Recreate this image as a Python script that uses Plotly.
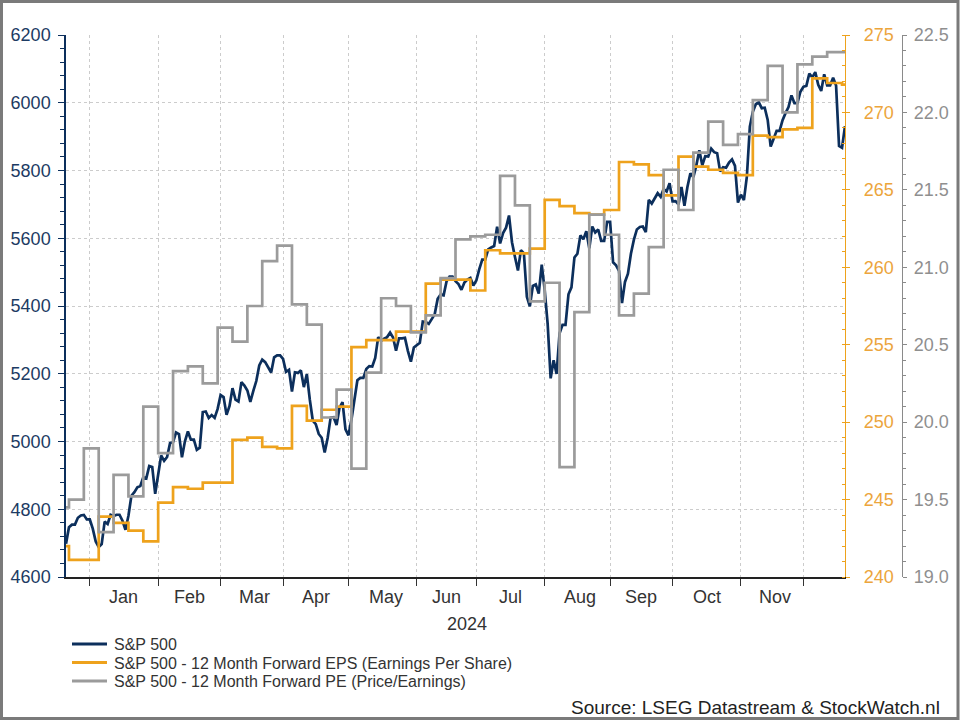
import pandas as pd
import plotly.graph_objects as go

# ---- data -------------------------------------------------------------
dates = pd.bdate_range("2023-12-20", "2024-12-20")  # Datastream weekday calendar

sp500 = [
    4698.35, 4746.75, 4754.63, 4754.63, 4774.75, 4781.58, 4783.35, 4769.83,
    4769.83, 4742.83, 4704.81, 4688.68, 4697.24, 4763.54, 4756.50, 4783.45,
    4780.24, 4783.83, 4783.83, 4765.98, 4739.21, 4780.94, 4839.81, 4850.43,
    4864.60, 4868.55, 4894.16, 4890.97, 4927.93, 4924.97, 4845.65,
    4906.19, 4958.61, 4942.81, 4954.23, 4995.06, 4997.91, 5026.61, 5021.84,
    4953.17, 5000.62, 5029.73, 5005.57, 5005.57, 4975.51, 4981.80, 5087.03,
    5088.80, 5069.53, 5078.18, 5069.76, 5096.27,
    5137.08, 5130.95, 5078.65, 5104.76, 5157.36, 5123.69, 5117.94, 5175.27,
    5165.31, 5150.48, 5117.09, 5149.42, 5178.51, 5224.62, 5241.53, 5234.18,
    5218.19, 5203.58, 5248.49, 5254.35, 5254.35,
    5243.77, 5205.81, 5211.49, 5147.21, 5204.34, 5202.39, 5209.91, 5160.64,
    5199.06, 5123.41, 5061.82, 5051.41, 5022.21, 5011.12, 4967.23, 5010.60,
    5070.55, 5071.63, 5048.42, 5099.96, 5116.17, 5035.69,
    5018.39, 5064.20, 5127.79, 5180.74, 5187.70, 5187.67, 5214.08, 5222.68,
    5221.42, 5246.68, 5308.15, 5297.10, 5303.27, 5308.13, 5321.41, 5307.01,
    5267.84, 5304.72, 5304.72, 5306.04, 5266.95, 5235.48, 5277.51,
    5283.40, 5291.34, 5354.03, 5352.96, 5346.99, 5360.79, 5375.32, 5421.03,
    5433.74, 5431.60, 5473.23, 5487.03, 5487.03, 5473.17, 5464.62, 5447.87,
    5469.30, 5477.90, 5482.87, 5460.48,
    5475.09, 5509.01, 5537.02, 5537.02, 5567.19, 5572.85, 5576.98, 5633.91,
    5584.54, 5615.35, 5631.22, 5667.20, 5588.27, 5544.59, 5505.00, 5564.41,
    5555.74, 5427.13, 5399.22, 5459.10, 5463.54, 5436.44, 5522.30,
    5446.68, 5346.56, 5186.33, 5240.03, 5199.50, 5319.31, 5344.16, 5344.39,
    5434.43, 5455.21, 5543.22, 5554.25, 5608.25, 5597.12, 5620.85, 5570.64,
    5634.61, 5616.84, 5625.80, 5592.18, 5591.96, 5648.40,
    5648.40, 5528.93, 5520.07, 5503.41, 5408.42, 5471.05, 5495.52, 5554.13,
    5595.76, 5626.02, 5633.09, 5634.58, 5618.26, 5713.64, 5702.55, 5718.57,
    5732.93, 5722.26, 5745.37, 5738.17, 5762.48,
    5708.75, 5709.54, 5699.94, 5751.07, 5695.94, 5751.13, 5792.04, 5780.05,
    5815.03, 5859.85, 5815.26, 5842.47, 5841.47, 5864.67, 5853.98, 5851.20,
    5797.42, 5809.86, 5808.12, 5823.52, 5832.92, 5813.67, 5705.45,
    5728.80, 5712.69, 5782.76, 5929.04, 5973.10, 5995.54, 6001.35, 5983.99,
    5985.38, 5949.17, 5870.62, 5893.62, 5916.98, 5917.11, 5948.71, 5969.34,
    5987.37, 6021.63, 5998.74, 5998.74, 6032.38,
    6047.15, 6049.88, 6086.49, 6075.11, 6090.27, 6052.85, 6034.91, 6084.19,
    6051.25, 6051.09, 6074.08, 6050.61, 5872.16, 5867.08, 5930.85,
]

# 12-month forward EPS: weekly revisions (date of change, new level)
eps_dates = [
    "2023-12-20", "2023-12-21", "2024-01-04", "2024-01-11", "2024-01-18",
    "2024-01-25", "2024-02-01", "2024-02-08", "2024-02-15", "2024-02-22",
    "2024-03-07", "2024-03-14", "2024-03-21", "2024-03-28", "2024-04-04",
    "2024-04-11", "2024-04-18", "2024-04-25", "2024-05-02", "2024-05-09",
    "2024-05-23", "2024-06-06", "2024-06-13", "2024-06-27", "2024-07-04",
    "2024-07-11", "2024-07-25", "2024-08-01", "2024-08-08", "2024-08-15",
    "2024-08-22", "2024-08-29", "2024-09-05", "2024-09-12", "2024-09-19",
    "2024-09-26", "2024-10-03", "2024-10-10", "2024-10-17", "2024-10-24",
    "2024-10-31", "2024-11-07", "2024-11-14", "2024-11-21", "2024-11-28",
    "2024-12-05", "2024-12-12", "2024-12-19", "2024-12-20",
]
eps_values = [
    242.0, 241.1, 243.9, 243.5, 243.0,
    242.3, 244.8, 245.8, 245.7, 246.1,
    248.85, 249.0, 248.4, 248.3, 251.05,
    250.1, 250.8, 251.0, 254.85, 255.3,
    255.85, 258.95, 259.2, 258.5, 261.1,
    260.9, 261.2, 264.35, 263.95, 263.5,
    263.4, 263.7, 266.8, 266.65, 265.95,
    264.65, 267.15, 266.5, 266.3, 266.1,
    265.95, 268.5, 268.4, 268.9, 269.0,
    272.2, 271.9, 271.8, 271.8,
]

# 12-month forward PE: weekly (date of change, new level)
pe_dates = [
    "2023-12-20", "2023-12-21", "2023-12-28", "2024-01-04", "2024-01-11",
    "2024-01-18", "2024-01-25", "2024-02-01", "2024-02-08", "2024-02-15",
    "2024-02-22", "2024-02-29", "2024-03-07", "2024-03-14", "2024-03-21",
    "2024-03-28", "2024-04-04", "2024-04-11", "2024-04-18", "2024-04-25",
    "2024-05-02", "2024-05-09", "2024-05-16", "2024-05-23", "2024-05-30",
    "2024-06-06", "2024-06-13", "2024-06-20", "2024-06-27", "2024-07-04",
    "2024-07-11", "2024-07-18", "2024-07-25", "2024-08-01", "2024-08-08",
    "2024-08-15", "2024-08-22", "2024-08-29", "2024-09-05", "2024-09-12",
    "2024-09-19", "2024-09-26", "2024-10-03", "2024-10-10", "2024-10-17",
    "2024-10-24", "2024-10-31", "2024-11-07", "2024-11-14", "2024-11-21",
    "2024-11-28", "2024-12-05", "2024-12-12", "2024-12-20",
]
pe_values = [
    19.45, 19.50, 19.83, 19.29, 19.66,
    19.52, 20.10, 19.80, 20.33, 20.36,
    20.25, 20.61, 20.52, 20.75, 21.04,
    21.14, 20.76, 20.63, 20.03, 20.21,
    19.70, 20.32, 20.80, 20.75, 20.58,
    20.69, 20.93, 21.18, 21.20, 21.21,
    21.59, 21.40, 20.78, 20.90, 19.71,
    20.71, 21.34, 21.21, 20.69, 20.83,
    21.13, 21.63, 21.37, 21.74, 21.94,
    21.79, 21.86, 22.08, 22.30, 22.00,
    22.31, 22.36, 22.39, 22.39,
]

month_starts = ["2024-01-01", "2024-02-01", "2024-03-01", "2024-04-01",
                "2024-05-01", "2024-06-03", "2024-07-01", "2024-08-01",
                "2024-09-02", "2024-10-01", "2024-11-01", "2024-12-02"]
month_labels = ["Jan", "Feb", "Mar", "Apr", "May", "Jun", "Jul", "Aug",
                "Sep", "Oct", "Nov"]

series_names = ["S&P 500",
                "S&P 500 - 12 Month Forward EPS (Earnings Per Share)",
                "S&P 500 - 12 Month Forward PE (Price/Earnings)"]

# ---- styling -----------------------------------------------------------
NAVY = "#0c2f5c"
ORANGE = "#eea21c"
GRAY = "#9b9b9b"
FONT = "Liberation Sans, Arial, sans-serif"
LW = 2.7

W, H = 960, 720
ML, MR, MT, MB = 66, 50, 35, 143
PW, PH = W - ML - MR, H - MT - MB
PLOT_RIGHT = 845


def px_x(px):
    return (px - ML) / PW


def px_y(py):
    return (H - MB - py) / PH


fig = go.Figure()

fig.add_trace(go.Scatter(
    x=pd.to_datetime(pe_dates), y=pe_values, mode="lines", line_shape="hv",
    name=series_names[2], line=dict(color=GRAY, width=LW), yaxis="y3",
    showlegend=False,
))
fig.add_trace(go.Scatter(
    x=pd.to_datetime(eps_dates), y=eps_values, mode="lines", line_shape="hv",
    name=series_names[1], line=dict(color=ORANGE, width=LW), yaxis="y2",
    showlegend=False,
))
fig.add_trace(go.Scatter(
    x=dates, y=sp500, mode="lines", name=series_names[0],
    line=dict(color=NAVY, width=LW), yaxis="y", showlegend=False,
))

grid = dict(showgrid=True, gridcolor="#cccccc", gridwidth=1, griddash="dot")

fig.update_layout(
    width=W, height=H,
    margin=dict(l=ML, r=MR, t=MT, b=MB, pad=0, autoexpand=False),
    paper_bgcolor="white", plot_bgcolor="white",
    font=dict(family=FONT, color="#333333"),
    showlegend=False,
    xaxis=dict(
        type="date",
        domain=[0, px_x(PLOT_RIGHT)],
        range=[dates[0], dates[-1]],
        rangebreaks=[dict(bounds=["sat", "mon"])],
        tickmode="array", tickvals=pd.to_datetime(month_starts),
        ticktext=[""] * len(month_starts),
        ticks="outside", ticklen=7, tickcolor="#333333", tickwidth=1,
        showline=True, linecolor="#222222", linewidth=1.5,
        zeroline=False, automargin=False, **grid,
    ),
    yaxis=dict(
        range=[4600, 6200], dtick=200, tick0=4600,
        ticks="outside", ticklen=6, tickcolor=NAVY, tickwidth=1,
        minor=dict(dtick=40, ticks="outside", ticklen=4, tickcolor=NAVY,
                   showgrid=False),
        showline=True, linecolor=NAVY, linewidth=1.5,
        tickfont=dict(size=18, color="#1c3b63", family=FONT),
        zeroline=False, ticklabelstandoff=4, automargin=False, **grid,
    ),
    yaxis2=dict(
        overlaying="y", side="right", anchor="x",
        range=[240, 275], dtick=5, tick0=240,
        ticks="outside", ticklen=4, tickcolor=ORANGE, tickwidth=1,
        minor=dict(dtick=1, ticks="inside", ticklen=3, tickcolor=ORANGE,
                   showgrid=False),
        showline=True, linecolor=ORANGE, linewidth=1.2,
        tickfont=dict(size=18, color="#eca53c", family=FONT),
        showgrid=False, zeroline=False, ticklabelstandoff=10,
        automargin=False,
    ),
    yaxis3=dict(
        overlaying="y", side="right", anchor="free", position=px_x(902),
        range=[19, 22.5], dtick=0.5, tick0=19, tickformat=".1f",
        ticks="outside", ticklen=4, tickcolor="#8a8a8a", tickwidth=1,
        minor=dict(dtick=0.1, ticks="outside", ticklen=3, tickcolor="#8a8a8a",
                   showgrid=False),
        showline=True, linecolor="#8a8a8a", linewidth=1.2,
        tickfont=dict(size=18, color="#8f8f8f", family=FONT),
        showgrid=False, zeroline=False, ticklabelstandoff=3,
        automargin=False,
    ),
)

# month labels centred between month boundaries
starts = pd.to_datetime(month_starts)
for i, lab in enumerate(month_labels):
    mid = starts[i] + (starts[i + 1] - starts[i]) / 2
    fig.add_annotation(x=mid, y=px_y(597), xref="x", yref="paper", text=lab,
                       showarrow=False, xanchor="center", yanchor="middle",
                       font=dict(size=18, color="#333333", family=FONT))

fig.add_annotation(x=px_x(467), y=px_y(624), xref="paper", yref="paper",
                   text="2024", showarrow=False, xanchor="center",
                   yanchor="middle",
                   font=dict(size=18, color="#333333", family=FONT))

# legend (drawn with shapes + text to match the compact line spacing)
leg_colors = [NAVY, ORANGE, GRAY]
leg_y = [644, 662.5, 681]
for name, col, ly in zip(series_names, leg_colors, leg_y):
    fig.add_shape(type="line", xref="paper", yref="paper",
                  x0=px_x(72), x1=px_x(107), y0=px_y(ly), y1=px_y(ly),
                  line=dict(color=col, width=3))
    fig.add_annotation(x=px_x(112), y=px_y(ly + 0.5), xref="paper",
                       yref="paper", text=name, showarrow=False,
                       xanchor="left", yanchor="middle",
                       font=dict(size=16, color="#333333", family=FONT))

fig.add_annotation(x=px_x(942), y=px_y(707), xref="paper", yref="paper",
                   text="Source: LSEG Datastream & StockWatch.nl",
                   showarrow=False, xanchor="right", yanchor="middle",
                   font=dict(size=19, color="#222222", family=FONT))

# outer frame of the picture
fig.add_shape(type="rect", xref="paper", yref="paper",
              x0=px_x(1.5), x1=px_x(958), y0=px_y(718.5), y1=px_y(1.5),
              line=dict(color="#7a7a7a", width=3), fillcolor="rgba(0,0,0,0)",
              layer="above")

fig.write_html("out.html")
